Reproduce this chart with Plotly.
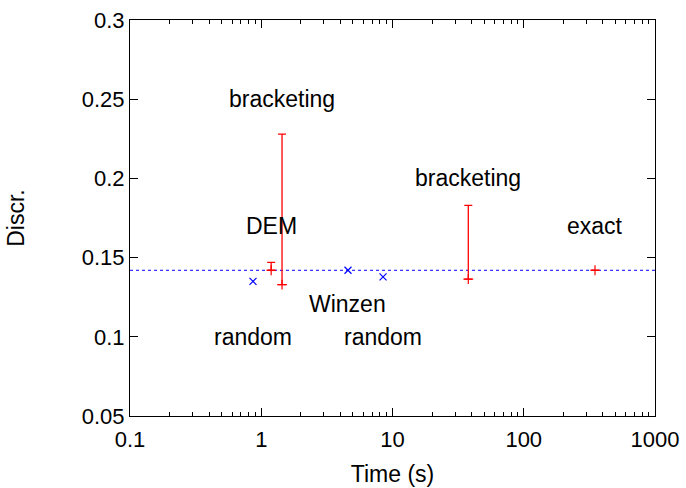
import math
import plotly.graph_objects as go

# blue point estimates (random, Winzen, random)
blue_x = [0.865, 4.58, 8.47]
blue_y = [0.135, 0.142, 0.1378]

# red bracketing / DEM / exact intervals
red_x = [1.19, 1.44, 37.8, 349]
red_y = [0.142, 0.133, 0.1364, 0.142]
red_hi = [0.147, 0.228, 0.183, 0.142]

ref_y = 0.142
x_range = [0.1, 1000]

labels = ["bracketing", "DEM", "random", "Winzen", "random", "bracketing", "exact"]
label_x = [1.44, 1.19, 0.865, 4.58, 8.47, 37.8, 349]
label_y = [0.25, 0.17, 0.10, 0.121, 0.10, 0.20, 0.17]

x_ticks = [0.1, 1, 10, 100, 1000]
x_ticklabels = ["0.1", "1", "10", "100", "1000"]
x_minor = [m * d for d in [0.1, 1, 10, 100] for m in range(2, 10)]
y_ticks = [0.05, 0.1, 0.15, 0.2, 0.25, 0.3]
y_ticklabels = ["0.05", "0.1", "0.15", "0.2", "0.25", "0.3"]

font = "Liberation Sans, Arial, sans-serif"
fs = 23
tfs = 22

fig = go.Figure()
fig.add_trace(go.Scatter(x=x_range, y=[ref_y, ref_y], mode="lines",
                         line=dict(color="#0000ff", width=1, dash="dot"),
                         hoverinfo="skip"))
fig.add_trace(go.Scatter(
    x=red_x, y=red_y, mode="markers",
    marker=dict(symbol="cross-thin", size=7, color="#ff0000",
                line=dict(color="#ff0000", width=1.2)),
    error_y=dict(type="data", symmetric=False,
                 array=[h - y for h, y in zip(red_hi, red_y)],
                 arrayminus=[0] * len(red_y),
                 color="#ff0000", thickness=1.3, width=4)))
fig.add_trace(go.Scatter(
    x=blue_x, y=blue_y, mode="markers",
    marker=dict(symbol="x-thin", size=7, color="#0000ff",
                line=dict(color="#0000ff", width=1.2))))

for t, xx, yy in zip(labels, label_x, label_y):
    fig.add_annotation(x=math.log10(xx), y=yy, xref="x", yref="y", text=t,
                       showarrow=False,
                       font=dict(family=font, size=fs, color="black"))

fig.update_layout(
    width=686, height=488, showlegend=False,
    paper_bgcolor="white", plot_bgcolor="white",
    margin=dict(l=130, r=31, t=20, b=72),
    font=dict(family=font, size=fs, color="black"),
    xaxis=dict(type="log", range=[-1, 3], tickmode="array", tickvals=x_ticks,
               ticktext=x_ticklabels, tickfont=dict(family=font, size=tfs),
               ticks="inside", ticklen=8, tickcolor="black", showline=True,
               linecolor="black", linewidth=1, mirror="allticks", showgrid=False,
               zeroline=False, automargin=False, ticklabelstandoff=4,
               minor=dict(ticks="inside", ticklen=4, tickcolor="black",
                          tickmode="array", tickvals=x_minor, showgrid=False),
               title=dict(text="Time (s)", standoff=14,
                          font=dict(family=font, size=fs))),
    yaxis=dict(range=[0.05, 0.3], tickmode="array", tickvals=y_ticks,
               ticktext=y_ticklabels, tickfont=dict(family=font, size=tfs),
               ticks="inside", ticklen=8, tickcolor="black", showline=True,
               linecolor="black", linewidth=1, mirror="allticks", showgrid=False,
               zeroline=False, automargin=False,
               title=dict(text="Discr.", standoff=50,
                          font=dict(family=font, size=fs))),
)

fig.write_html("out.html", config={"displayModeBar": False},
               post_script="document.body.style.margin='0';")
